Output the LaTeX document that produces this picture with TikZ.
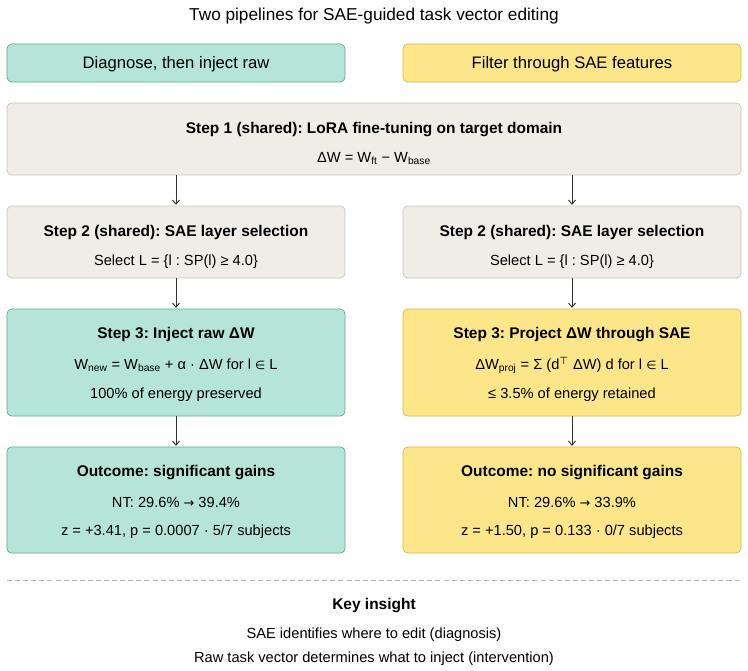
\documentclass[tikz,border=0pt]{standalone}
\usepackage{fontspec}
\setmainfont{Liberation Sans}
\newfontfamily\symfont{DejaVu Sans}
\usetikzlibrary{arrows.meta}
\frenchspacing

\definecolor{greenfill}{HTML}{B5E5D8}
\definecolor{greenline}{HTML}{6AA592}
\definecolor{yellowfill}{HTML}{FDE68A}
\definecolor{yellowline}{HTML}{D8B94E}
\definecolor{grayfill}{HTML}{F0EDE7}
\definecolor{grayline}{HTML}{C9C6BF}
\definecolor{arrowgray}{HTML}{333333}
\definecolor{sepgray}{HTML}{BBBBBB}

\newcommand{\elem}{{\symfont\fontsize{10}{12}\selectfont ∈}}
\newcommand{\goesto}{{\symfont\fontsize{11}{12}\selectfont →}}

\tikzset{
	box/.style={draw, rounded corners=4pt, line width=0.6pt, minimum width=10.14cm, inner sep=0pt, outer sep=0pt},
	greenbox/.style={box, fill=greenfill, draw=greenline},
	yellowbox/.style={box, fill=yellowfill, draw=yellowline},
	graybox/.style={box, fill=grayfill, draw=grayline},
	titletext/.style={font=\fontsize{14.7}{17}\selectfont, text height=11.6pt, text depth=1pt, inner sep=0pt},
	toptext/.style={font=\fontsize{14.2}{17}\selectfont, text height=11.2pt, text depth=1pt},
	headtext/.style={font=\fontsize{13.2}{16}\selectfont\bfseries, text height=10.5pt, text depth=1pt, inner sep=0pt},
	bodytext/.style={font=\fontsize{12.5}{15}\selectfont, text height=10pt, text depth=1pt, inner sep=0pt},
	flow/.style={-{Straight Barb[length=3.5pt, width=6pt]}, line width=0.8pt, draw=arrowgray, shorten >=1pt},
	sepline/.style={draw=sepgray, line width=0.8pt, dash pattern=on 4.3pt off 2.6pt},
}

\begin{document}
\begin{tikzpicture}[x=0.03cm, y=-0.03cm]
	\useasboundingbox (0,0) rectangle (748,671);
	% title
	\node[titletext] (title) at (374,14) {Two pipelines for SAE-guided task vector editing};
	% headers
	\node[greenbox, toptext, minimum height=1.14cm] (hl) at (176,63) {Diagnose, then inject raw};
	\node[yellowbox, toptext, minimum height=1.14cm] (hr) at (572,63) {Filter through SAE features};
	% step 1
	\node[graybox, minimum width=22.02cm, minimum height=2.16cm] (s1) at (374,139) {};
	\node[headtext] (s1a) at (374,128) {Step 1 (shared): LoRA fine-tuning on target domain};
	\node[bodytext] (s1b) at (374,157) {ΔW = W\textsubscript{ft} − W\textsubscript{base}};
	% step 2
	\node[graybox, minimum height=2.16cm] (s2l) at (176,242) {};
	\node[headtext] (s2la) at (176,231) {Step 2 (shared): SAE layer selection};
	\node[bodytext] (s2lb) at (176,260) {Select L = \{l : SP(l) ≥ 4.0\}};
	\node[graybox, minimum height=2.16cm] (s2r) at (572,242) {};
	\node[headtext] (s2ra) at (572,231) {Step 2 (shared): SAE layer selection};
	\node[bodytext] (s2rb) at (572,260) {Select L = \{l : SP(l) ≥ 4.0\}};
	% step 3
	\node[greenbox, minimum height=3.21cm] (s3l) at (176,362.5) {};
	\node[headtext] (s3la) at (176,333) {Step 3: Inject raw ΔW};
	\node[bodytext] (s3lb) at (176,364) {W\textsubscript{new} = W\textsubscript{base} + α · ΔW for l \elem{} L};
	\node[bodytext] (s3lc) at (176,393) {100\% of energy preserved};
	\node[yellowbox, minimum height=3.21cm] (s3r) at (572,362.5) {};
	\node[headtext] (s3ra) at (572,333) {Step 3: Project ΔW through SAE};
	\node[bodytext] (s3rb) at (572,364) {ΔW\textsubscript{proj} = Σ (d\textsuperscript{\symfont ⊤} ΔW) d for l \elem{} L};
	\node[bodytext] (s3rc) at (572,393) {≤ 3.5\% of energy retained};
	% outcome
	\node[greenbox, minimum height=3.18cm] (ol) at (176,500) {};
	\node[headtext] (ola) at (176,471) {Outcome: significant gains};
	\node[bodytext] (olb) at (176,502) {NT: 29.6\% \goesto{} 39.4\%};
	\node[bodytext] (olc) at (176,530) {z = +3.41, p = 0.0007 · 5/7 subjects};
	\node[yellowbox, minimum height=3.18cm] (or) at (572,500) {};
	\node[headtext] (ora) at (572,471) {Outcome: no significant gains};
	\node[bodytext] (orb) at (572,502) {NT: 29.6\% \goesto{} 33.9\%};
	\node[bodytext] (orc) at (572,530) {z = +1.50, p = 0.133 · 0/7 subjects};
	% arrows
	\draw[flow] (s1.south -| s2l.north) -- (s2l.north);
	\draw[flow] (s1.south -| s2r.north) -- (s2r.north);
	\draw[flow] (s2l.south) -- (s3l.north);
	\draw[flow] (s2r.south) -- (s3r.north);
	\draw[flow] (s3l.south) -- (ol.north);
	\draw[flow] (s3r.south) -- (or.north);
	% key insight
	\draw[sepline] (7,580) -- (741,580);
	\node[headtext] (key) at (374,604) {Key insight};
	\node[bodytext] (keya) at (374,633) {SAE identifies where to edit (diagnosis)};
	\node[bodytext] (keyb) at (374,657) {Raw task vector determines what to inject (intervention)};
\end{tikzpicture}
\end{document}
